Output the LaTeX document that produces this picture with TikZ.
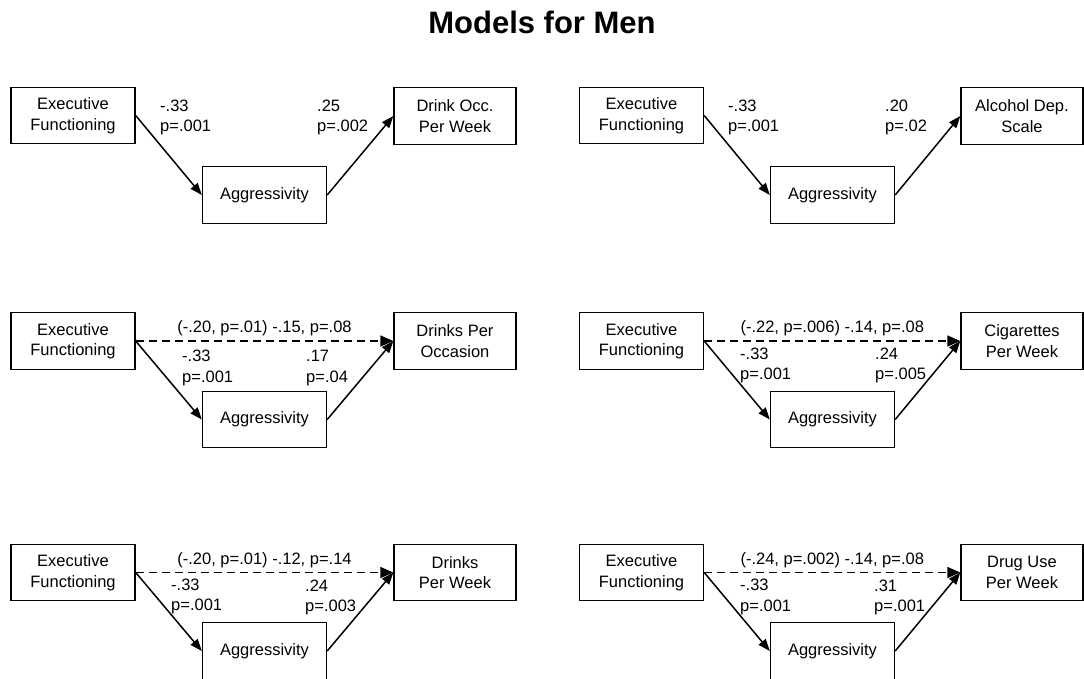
\documentclass[tikz,border=0pt]{standalone}
\usepackage{fontspec}
\setmainfont{Liberation Sans}
\usetikzlibrary{arrows.meta}
\newcommand{\coeffont}{\fontsize{16.5}{20.5}\selectfont}

\begin{document}
\begin{tikzpicture}[x=1pt, y=-1pt,
    varbox/.style={draw, line width=1.4pt, minimum width=124pt, minimum height=56.5pt, inner sep=0pt, align=center, font=\coeffont},
    outbox/.style={varbox, minimum width=122pt},
    coef/.style={anchor=west, align=left, inner sep=0pt, font=\coeffont},
    link/.style={line width=1.5pt, -{Triangle[length=12pt, width=9pt]}},
    direct/.style={line width=1.5pt, dash pattern=on 8pt off 5pt, -{Triangle[length=13pt, width=11pt]}},
    total/.style={above, inner sep=4pt, font=\coeffont}]
\useasboundingbox (0,0) rectangle (1084,678);
\node[font=\fontsize{31}{36}\selectfont\bfseries, inner sep=0pt] (title) at (542,22.5) {Models for Men};

% drink occasions per week
\node[varbox] (ef1) at (73,115.5) {Executive\\Functioning};
\node[varbox] (ag1) at (264.5,195) {Aggressivity};
\node[outbox] (dw1) at (455,116) {Drink Occ.\\Per Week};
\draw[link] (ef1.east) -- (ag1.west);
\draw[link] (ag1.east) -- (dw1.west);
\node[coef] (a1) at (160,117.5) {-.33\\p=.001};
\node[coef] (b1) at (317,117.5) {.25\\p=.002};

% alcohol dependence
\node[varbox] (ef2) at (641.5,115.5) {Executive\\Functioning};
\node[varbox] (ag2) at (832.5,195) {Aggressivity};
\node[outbox] (ad2) at (1022,116) {Alcohol Dep.\\Scale};
\draw[link] (ef2.east) -- (ag2.west);
\draw[link] (ag2.east) -- (ad2.west);
\node[coef] (a2) at (728,117.5) {-.33\\p=.001};
\node[coef] (b2) at (885,117.5) {.20\\p=.02};

% drinks per occasion
\node[varbox] (ef3) at (73,341) {Executive\\Functioning};
\node[varbox] (ag3) at (264.5,419.5) {Aggressivity};
\node[outbox] (dp3) at (455,341) {Drinks Per\\Occasion};
\draw[direct] (ef3.east) -- (dp3.west) node[midway, total] {(-.20, p=.01) -.15, p=.08};
\draw[link] (ef3.east) -- (ag3.west);
\draw[link] (ag3.east) -- (dp3.west);
\node[coef] (a3) at (182,368) {-.33\\p=.001};
\node[coef] (b3) at (306,368) {.17\\p=.04};

% cigarettes
\node[varbox] (ef4) at (641.5,341) {Executive\\Functioning};
\node[varbox] (ag4) at (832.5,419.5) {Aggressivity};
\node[outbox] (cw4) at (1022,341) {Cigarettes\\Per Week};
\draw[direct] (ef4.east) -- (cw4.west) node[midway, total] {(-.22, p=.006) -.14, p=.08};
\draw[link] (ef4.east) -- (ag4.west);
\draw[link] (ag4.east) -- (cw4.west);
\node[coef] (a4) at (740,365.5) {-.33\\p=.001};
\node[coef] (b4) at (875,365.5) {.24\\p=.005};

% drinks per week
\node[varbox] (ef5) at (73,572.5) {Executive\\Functioning};
\node[varbox] (ag5) at (264.5,651) {Aggressivity};
\node[outbox] (dw5) at (455,572.5) {Drinks\\Per Week};
\draw[direct] (ef5.east) -- (dw5.west) node[midway, total] {(-.20, p=.01) -.12, p=.14};
\draw[link] (ef5.east) -- (ag5.west);
\draw[link] (ag5.east) -- (dw5.west);
\node[coef] (a5) at (171,596.5) {-.33\\p=.001};
\node[coef] (b5) at (305,597.5) {.24\\p=.003};

% drug use
\node[varbox] (ef6) at (641.5,572.5) {Executive\\Functioning};
\node[varbox] (ag6) at (832.5,651) {Aggressivity};
\node[outbox] (du6) at (1022,572.5) {Drug Use\\Per Week};
\draw[direct] (ef6.east) -- (du6.west) node[midway, total] {(-.24, p=.002) -.14, p=.08};
\draw[link] (ef6.east) -- (ag6.west);
\draw[link] (ag6.east) -- (du6.west);
\node[coef] (a6) at (740,597) {-.33\\p=.001};
\node[coef] (b6) at (874,597.5) {.31\\p=.001};
\end{tikzpicture}
\end{document}
